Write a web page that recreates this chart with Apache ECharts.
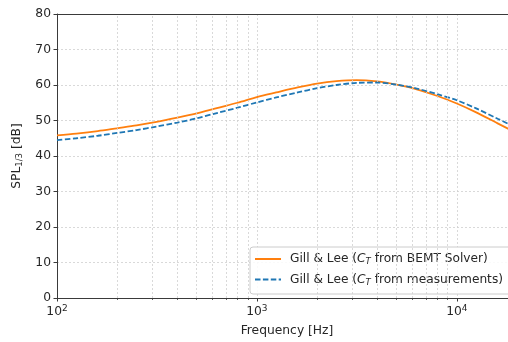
<!DOCTYPE html>
<html>
<head>
<meta charset="utf-8">
<script src="https://cdn.jsdelivr.net/npm/echarts@6/dist/echarts.min.js"></script>
<style>
  html, body { margin: 0; padding: 0; background: #fff; overflow: hidden; width: 508px; height: 342px; }
  /* the axes run slightly past the right edge of the page */
  #chart { width: 518px; height: 342px; }
</style>
</head>
<body>
<div id="chart"></div>
<script>
// Third-octave band centre frequencies [Hz]
const freqs = [100, 125, 160, 200, 250, 315, 400, 500, 630, 800, 1000, 1250, 1600, 2000, 2500, 3150, 4000, 5000, 6300, 8000, 10000, 12500, 16000, 20000];
// Gill & Lee prediction, C_T from BEMT solver [dB]
const splBemt = [45.8, 46.3, 47.0, 47.8, 48.6, 49.6, 50.8, 52.0, 53.5, 55.0, 56.6, 57.9, 59.3, 60.4, 61.1, 61.4, 61.0, 60.1, 58.8, 56.9, 54.8, 52.3, 49.2, 46.4];
// Gill & Lee prediction, C_T from measurements [dB]
const splMeas = [44.5, 45.0, 45.7, 46.5, 47.3, 48.3, 49.4, 50.6, 52.1, 53.6, 55.1, 56.5, 57.9, 59.1, 60.0, 60.6, 60.7, 60.1, 59.0, 57.4, 55.7, 53.4, 50.5, 47.9];
// Minor log grid / tick positions
const minorFreqs = [200, 300, 400, 500, 600, 700, 800, 900, 2000, 3000, 4000, 5000, 6000, 7000, 8000, 9000];
const xRange = { min: 100, max: 20000 };
const yTicks = { min: 0, max: 80, step: 10 };

const FONT = 'DejaVu Sans';
const TXT = '#262626';
const gridColor = '#d0d0d0';
const spineColor = '#3a3a3a';
const gridDash = [2, 2];

const chart = echarts.init(document.getElementById('chart'), null, { renderer: 'canvas' });

chart.setOption({
  animation: false,
  backgroundColor: '#fff',
  grid: { left: 57, top: 14, right: 1, bottom: 41, containLabel: false },
  xAxis: [{
    type: 'log',
    logBase: 10,
    min: xRange.min,
    max: xRange.max,
    name: 'Frequency [Hz]',
    nameLocation: 'middle',
    nameGap: 27,
    nameTextStyle: { fontFamily: FONT, fontSize: 12.3, color: TXT },
    axisLine: { show: true, onZero: false, lineStyle: { color: spineColor, width: 1 } },
    axisTick: { show: true, inside: false, length: 3.5, lineStyle: { color: spineColor } },
    axisLabel: {
      fontFamily: FONT, fontSize: 12.3, color: TXT, margin: 6,
      showMaxLabel: false,
      formatter: function (v) {
        const e = Math.round(Math.log10(v));
        if (Math.abs(Math.pow(10, e) - v) > 1e-6 * v) return '';
        return '10{sup|' + e + '}';
      },
      rich: { sup: { fontFamily: FONT, fontSize: 9, verticalAlign: 'top', padding: [0, 0, 7, 0], color: TXT } }
    },
    splitLine: { show: true, lineStyle: { color: gridColor, type: gridDash, width: 0.8 } }
  }, {
    // top spine
    type: 'value',
    position: 'top',
    min: 0, max: 1,
    axisLine: { show: true, onZero: false, lineStyle: { color: spineColor, width: 1 } },
    axisTick: { show: false },
    axisLabel: { show: false },
    splitLine: { show: false }
  }, {
    // minor ticks of the frequency axis
    type: 'log',
    logBase: 10,
    position: 'bottom',
    min: xRange.min,
    max: xRange.max,
    axisLine: { show: false, onZero: false },
    axisTick: { show: true, inside: false, length: 2, customValues: minorFreqs, lineStyle: { color: spineColor, width: 0.8 } },
    axisLabel: { show: false },
    splitLine: { show: false }
  }],
  yAxis: {
    type: 'value',
    min: yTicks.min,
    max: yTicks.max,
    interval: yTicks.step,
    name: 'SPL{sub|1/3} [dB]',
    nameLocation: 'middle',
    nameGap: 29,
    nameRotate: 90,
    nameTextStyle: {
      fontFamily: FONT, fontSize: 12.3, color: TXT,
      rich: { sub: { fontFamily: FONT, fontSize: 8.5, verticalAlign: 'bottom', padding: [6, 0, 0, 0], color: TXT } }
    },
    axisLine: { show: true, lineStyle: { color: spineColor, width: 1 } },
    axisTick: { show: true, length: 3.5, lineStyle: { color: spineColor } },
    axisLabel: { fontFamily: FONT, fontSize: 12.3, color: TXT, margin: 6 },
    splitLine: { show: true, lineStyle: { color: gridColor, type: gridDash, width: 0.8 } }
  },
  legend: {
    orient: 'vertical',
    left: 250,
    top: 247,
    padding: [6, 8, 7, 4],
    itemGap: 7,
    itemWidth: 26,
    itemHeight: 14,
    backgroundColor: 'rgba(255,255,255,0.85)',
    borderColor: '#cccccc',
    borderWidth: 1,
    borderRadius: 3,
    itemStyle: { opacity: 0 },
    textStyle: {
      fontFamily: FONT, fontSize: 12.2, color: TXT, padding: [0, 0, 0, 4],
      rich: {
        i: { fontFamily: FONT, fontSize: 12.2, fontStyle: 'italic', color: TXT },
        s: { fontFamily: FONT, fontSize: 8.5, fontStyle: 'italic', verticalAlign: 'bottom', padding: [6, 0, 0, 0], color: TXT }
      }
    },
    formatter: function (name) {
      if (name === 'bemt') return 'Gill & Lee ({i|C}{s|T} from BEMT Solver)';
      return 'Gill & Lee ({i|C}{s|T} from measurements)';
    },
    data: ['bemt', 'meas']
  },
  series: [{
    name: 'bemt',
    type: 'line',
    smooth: 0.3,
    symbol: 'none',
    data: freqs.map((f, i) => [f, splBemt[i]]),
    lineStyle: { color: '#ff7f0e', width: 1.8 },
    itemStyle: { color: '#ff7f0e' },
    z: 3,
    markLine: {
      silent: true,
      symbol: 'none',
      label: { show: false },
      lineStyle: { color: gridColor, type: gridDash, width: 0.8 },
      data: minorFreqs.map(f => ({ xAxis: f }))
    }
  }, {
    name: 'meas',
    type: 'line',
    smooth: 0.3,
    symbol: 'none',
    data: freqs.map((f, i) => [f, splMeas[i]]),
    lineStyle: { color: '#1f77b4', width: 1.8, type: [5.5, 2.4] },
    itemStyle: { color: '#1f77b4' },
    z: 4
  }]
});
</script>
</body>
</html>
